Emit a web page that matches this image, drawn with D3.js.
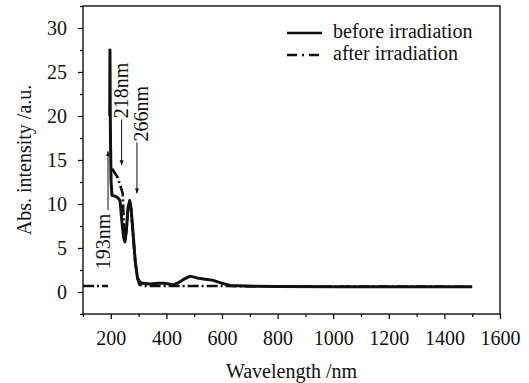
<!doctype html>
<html lang="en">
  <head>
    <meta charset="utf-8">
    <title>Absorption spectra</title>
    <script src="https://d3js.org/d3.v7.min.js"></script>
    <style>
      body { margin: 0; background: #fff; }
      text { font-family: "Liberation Serif", "Times New Roman", serif; fill: #111; }
    </style>
  </head>

  <body>
    <svg width="529" height="383"></svg>

    <script>
      // spectrum before irradiation (wavelength nm, absorbance)
      var beforeWl  = [196, 197, 198, 199, 201, 204, 215, 225, 233, 240, 246, 251, 256, 262, 268, 273, 280, 288, 296, 305, 316, 340, 370, 390, 410, 425, 440, 460, 485, 510, 540, 565, 590, 610, 630, 660, 700, 800, 1000, 1200, 1500];
      var beforeAbs = [20, 27.5, 21, 17, 12.5, 11, 10.9, 10.7, 10.4, 8, 6.2, 5.7, 7, 9.6, 10.4, 9.5, 6.7, 3.5, 1.6, 1.1, 1.0, 0.9, 1.0, 1.0, 0.9, 0.8, 1.0, 1.4, 1.8, 1.6, 1.45, 1.35, 1.1, 0.9, 0.75, 0.7, 0.65, 0.62, 0.6, 0.6, 0.6];

      // spectrum after irradiation (NaN = gap in the trace)
      var afterWl  = [100, 190, 192, 205, 215, 225, 235, 243, 247, 251, 256, 262, 268, 273, 280, 288, 296, 303, 312, 330, 600, 1000, 1500];
      var afterAbs = [0.68, 0.68, NaN, 14, 13.5, 13, 12, 11.2, 7.5, 5.8, 7, 9.5, 10.3, 9.4, 6.6, 3.4, 1.5, 0.85, 0.7, 0.68, 0.68, 0.62, 0.6];

      var xMajor = [200, 400, 600, 800, 1000, 1200, 1400, 1600];
      var xMinor = [100, 300, 500, 700, 900, 1100, 1300, 1500];
      var yMajor = [0, 5, 10, 15, 20, 25, 30];
      var yMinor = [-2.5, 2.5, 7.5, 12.5, 17.5, 22.5, 27.5, 32.5];

      var seriesNames = ["before irradiation", "after irradiation"];

      // peak labels: text, wavelength of arrow, label span (abs), arrow tip (abs)
      var peakText = ["193nm", "218nm", "266nm"];
      var peakWl   = [190, 239, 294];
      var peakTop  = [9.3, 26.2, 23.5];
      var peakBot  = [2.2, 19.6, 17.0];
      var peakTip  = [16, 14.4, 11.2];

      var svg = d3.select('svg');
      var margin = {top: 6, right: 29, bottom: 69, left: 83};
      var W = 529 - margin.left - margin.right;
      var H = 383 - margin.top - margin.bottom;

      var g = svg.append('g').attr('transform', 'translate(' + margin.left + ',' + margin.top + ')');

      var x = d3.scaleLinear().domain([100, 1600]).range([0, W]);
      var y = d3.scaleLinear().domain([-2.5, 32.5]).range([H, 0]);

      svg.append('defs').append('marker')
          .attr('id', 'arr')
          .attr('viewBox', '0 0 10 10')
          .attr('refX', 10).attr('refY', 5)
          .attr('markerWidth', 5).attr('markerHeight', 5)
          .attr('markerUnits', 'userSpaceOnUse')
          .attr('orient', 'auto')
        .append('path')
          .attr('d', 'M0,1 L10,5 L0,9 Z')
          .attr('fill', '#111');

      // frame
      g.append('rect')
          .attr('width', W).attr('height', H)
          .attr('fill', 'none').attr('stroke', '#111').attr('stroke-width', 1.4);

      // axes
      var styleAxis = function(sel){
        sel.select('.domain').remove();
        sel.selectAll('line').attr('stroke', '#111').attr('stroke-width', 1.3);
        sel.selectAll('text').style('font-size', '20px').style('font-family', '"Liberation Serif", serif').attr('fill', '#111');
      };

      g.append('g').attr('transform', 'translate(0,' + H + ')')
          .call(d3.axisBottom(x).tickValues(xMajor).tickSize(5).tickPadding(12).tickFormat(d3.format('d')))
          .call(styleAxis);
      g.append('g').attr('transform', 'translate(0,' + H + ')')
          .call(d3.axisBottom(x).tickValues(xMinor).tickSize(3).tickFormat(''))
          .call(styleAxis);
      g.append('g')
          .call(d3.axisLeft(y).tickValues(yMajor).tickSize(5).tickPadding(11).tickFormat(d3.format('d')))
          .call(styleAxis);
      g.append('g')
          .call(d3.axisLeft(y).tickValues(yMinor).tickSize(3).tickFormat(''))
          .call(styleAxis);

      // axis titles
      g.append('text')
          .attr('x', W / 2).attr('y', H + 64)
          .attr('text-anchor', 'middle')
          .style('font-size', '20px')
          .text('Wavelength /nm');
      g.append('text')
          .attr('transform', 'translate(' + (31 - margin.left) + ',' + (H / 2) + ') rotate(-90)')
          .attr('text-anchor', 'middle')
          .style('font-size', '20px')
          .text('Abs. intensity /a.u.');

      // traces
      var line = d3.line()
          .defined(function(d){ return !isNaN(d[1]); })
          .x(function(d){ return x(d[0]); })
          .y(function(d){ return y(d[1]); });

      var after = afterWl.map(function(w, i){ return [w, afterAbs[i]]; });
      var before = beforeWl.map(function(w, i){ return [w, beforeAbs[i]]; });

      g.append('path')
          .datum(after)
          .attr('d', line)
          .attr('fill', 'none').attr('stroke', '#111')
          .attr('stroke-width', 2.6)
          .attr('stroke-dasharray', '11,3,2,3');

      g.append('path')
          .datum(before)
          .attr('d', line)
          .attr('fill', 'none').attr('stroke', '#111')
          .attr('stroke-width', 3)
          .attr('stroke-linejoin', 'round');

      // peak annotations: rotated label with a thin leader ending in an arrow
      var labelShift = [2, 6, 11];
      peakText.forEach(function(t, i){
        var px = x(peakWl[i]);
        var isUp = peakTip[i] > peakTop[i];
        var from = isUp ? peakTop[i] : peakBot[i];
        g.append('line')
            .attr('x1', px).attr('x2', px)
            .attr('y1', y(from)).attr('y2', y(peakTip[i]))
            .attr('stroke', '#111').attr('stroke-width', 1)
            .attr('marker-end', 'url(#arr)');
        g.append('text')
            .attr('transform', 'translate(' + (px + labelShift[i]) + ',' + y((peakTop[i] + peakBot[i]) / 2) + ') rotate(-90)')
            .attr('text-anchor', 'middle')
            .style('font-size', '20px')
            .text(t);
      });

      // legend
      var legend = g.selectAll('.legend').data(seriesNames).enter()
          .append('g')
          .attr('transform', function(d, i){ return 'translate(' + (287 - margin.left) + ',' + (33 - margin.top + i * 22) + ')'; });
      legend.append('line')
          .attr('x1', 0).attr('x2', 35)
          .attr('stroke', '#111')
          .attr('stroke-width', 2.4)
          .attr('stroke-dasharray', function(d, i){ return i ? '10,5,2,5' : null; });
      legend.append('text')
          .attr('x', 46).attr('y', 5)
          .style('font-size', '20px')
          .text(function(d){ return d; });
    </script>
  </body>
</html>
